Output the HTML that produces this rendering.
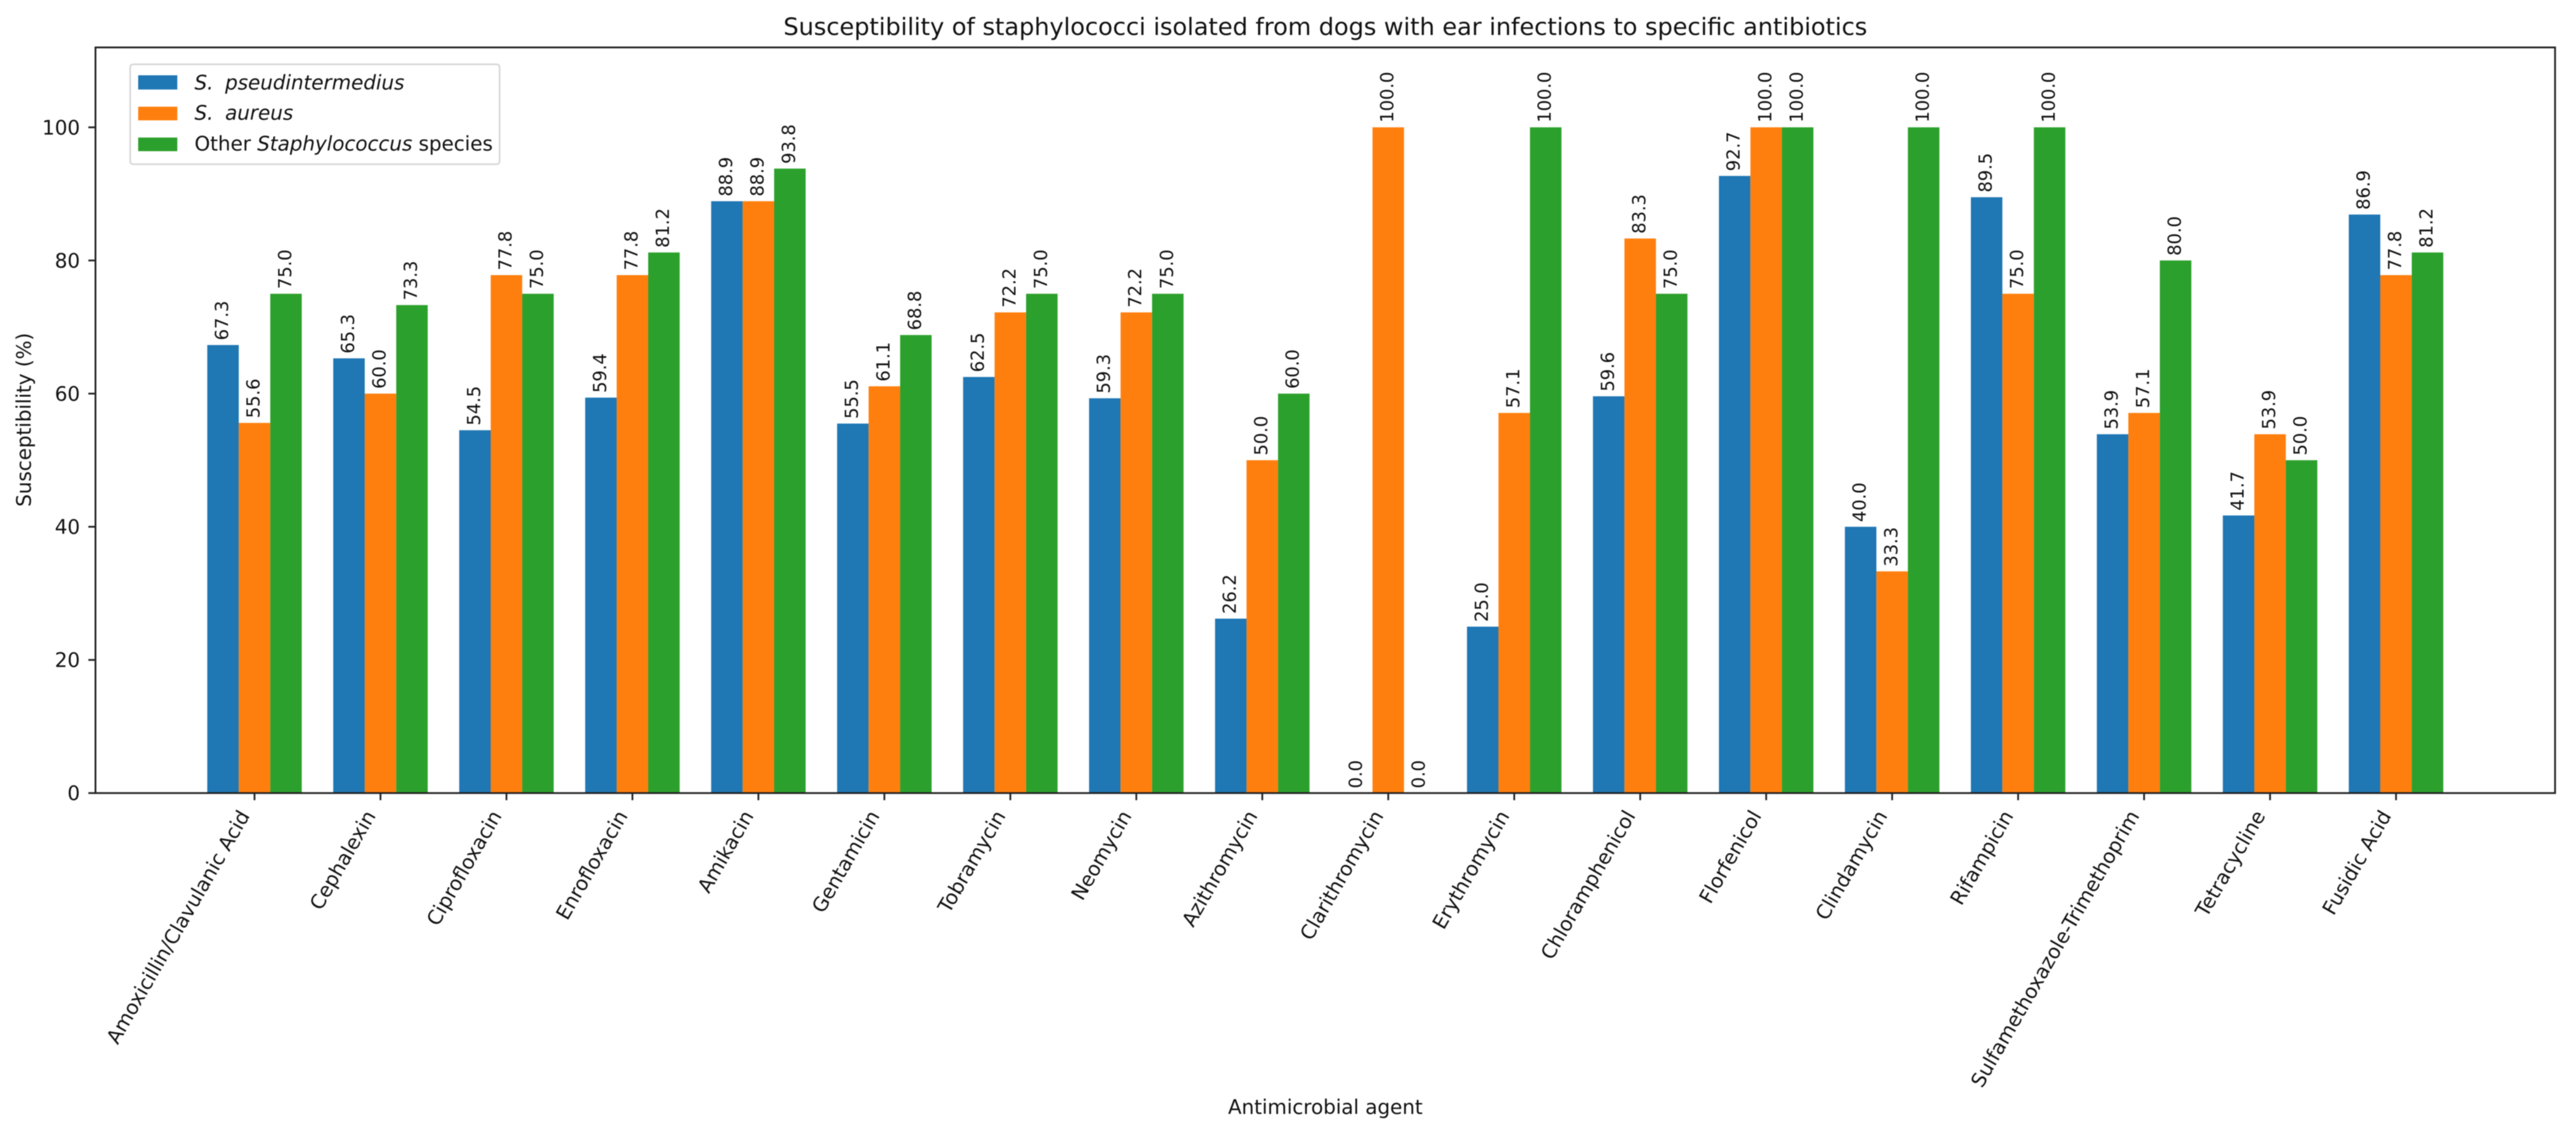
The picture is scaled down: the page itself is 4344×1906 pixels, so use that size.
<!DOCTYPE html>
<html lang="en">
<head>
<meta charset="utf-8">
<title>Susceptibility of staphylococci</title>
<style>
html,body{margin:0;padding:0;background:#fff;}
svg{display:block;filter:blur(0.7px);}
text{font-family:"DejaVu Sans","Liberation Sans",sans-serif;fill:#111;}
</style>
</head>
<body>
<svg id="chart" xmlns="http://www.w3.org/2000/svg" width="4344" height="1906" viewBox="0 0 4344 1906">
  <rect x="0" y="0" width="4344" height="1906" fill="#ffffff"/>
  <text x="2235" y="59" font-size="40.4" text-anchor="middle">Susceptibility of staphylococci isolated from dogs with ear infections to specific antibiotics</text>
  <text transform="translate(52 708) rotate(-90)" font-size="33.5" text-anchor="middle">Susceptibility (%)</text>
  <text x="2235" y="1879" font-size="33.5" text-anchor="middle">Antimicrobial agent</text>
  <g id="bars"></g>
  <g id="labels"></g>
  <g id="yticks"></g>
  <g id="xticks"></g>
  <rect x="161" y="80" width="4147.7" height="1257.7" fill="none" stroke="#222" stroke-width="3"/>
  <g>
    <rect x="219.5" y="108.5" width="623" height="168.5" rx="5" fill="#ffffff" fill-opacity="0.8" stroke="#d6d6d6" stroke-width="2.7"/>
    <rect x="233" y="127" width="66" height="24" fill="#1f77b4"/>
    <text x="328" y="151" font-size="33.5" font-style="italic">S. <tspan dx="9">pseudintermedius</tspan></text>
    <rect x="233" y="180" width="66" height="23" fill="#ff7f0e"/>
    <text x="328" y="202" font-size="33.5" font-style="italic">S. <tspan dx="9">aureus</tspan></text>
    <rect x="233" y="232" width="66" height="23" fill="#2ca02c"/>
    <text x="328" y="254" font-size="33.5">Other <tspan font-style="italic">Staphylococcus</tspan> species</text>
  </g>
</svg>
<script>
const categories = ["Amoxicillin/Clavulanic Acid","Cephalexin","Ciprofloxacin","Enrofloxacin","Amikacin","Gentamicin","Tobramycin","Neomycin","Azithromycin","Clarithromycin","Erythromycin","Chloramphenicol","Florfenicol","Clindamycin","Rifampicin","Sulfamethoxazole-Trimethoprim","Tetracycline","Fusidic Acid"];
const pseudintermedius = [67.3,65.3,54.5,59.4,88.9,55.5,62.5,59.3,26.2,0,25,59.6,92.7,40,89.5,53.9,41.7,86.9];
const aureus = [55.6,60,77.8,77.8,88.9,61.1,72.2,72.2,50,100,57.1,83.3,100,33.3,75,57.1,53.9,77.8];
const otherStaph = [75,73.3,75,81.2,93.8,68.8,75,75,60,0,100,75,100,100,100,80,50,81.2];
const yTickLabels = [0,20,40,60,80,100];
const seriesNames = ["pseudintermedius","aureus","other"];
const seriesColors = ["#1f77b4","#ff7f0e","#2ca02c"];

const NS = "http://www.w3.org/2000/svg";
const axisLeft = 161, axisRight = 4308.7, axisTop = 80, axisBottom = 1337.7;
const yMax = 112, barWidthUnits = 0.25;
const xMin = -0.375 - 0.05 * (categories.length - 1 + 0.75);
const xMax = categories.length - 1 + 0.375 + 0.05 * (categories.length - 1 + 0.75);
function xScale(v){ return axisLeft + (v - xMin) / (xMax - xMin) * (axisRight - axisLeft); }
function yScale(v){ return axisBottom - v / yMax * (axisBottom - axisTop); }

const barsG = document.getElementById("bars");
const labelsG = document.getElementById("labels");
const yG = document.getElementById("yticks");
const xG = document.getElementById("xticks");

[pseudintermedius, aureus, otherStaph].forEach(function(series, s){
  series.forEach(function(value, i){
    const left = xScale(i + (s - 1.5) * barWidthUnits);
    const right = xScale(i + (s - 0.5) * barWidthUnits);
    const top = yScale(value);
    const bar = document.createElementNS(NS, "rect");
    
    
    bar.setAttribute("x", left);
    bar.setAttribute("y", top);
    bar.setAttribute("width", right - left);
    bar.setAttribute("height", axisBottom - top);
    bar.setAttribute("fill", seriesColors[s]);
    barsG.appendChild(bar);

    const label = document.createElementNS(NS, "text");
    
    
    label.setAttribute("font-size", "30");
    label.setAttribute("transform", "translate(" + ((left + right) / 2 + 8.5) + " " + (top - 8) + ") rotate(-90)");
    label.textContent = value.toFixed(1);
    labelsG.appendChild(label);
  });
});

yTickLabels.forEach(function(v){
  const y = yScale(v);
  const tick = document.createElementNS(NS, "line");
  
  
  tick.setAttribute("x1", axisLeft - 12);
  tick.setAttribute("x2", axisLeft);
  tick.setAttribute("y1", y);
  tick.setAttribute("y2", y);
  tick.setAttribute("stroke", "#222");
  tick.setAttribute("stroke-width", "3");
  yG.appendChild(tick);
  const t = document.createElementNS(NS, "text");
  
  
  t.setAttribute("x", axisLeft - 26);
  t.setAttribute("y", y + 12);
  t.setAttribute("font-size", "33.5");
  t.setAttribute("text-anchor", "end");
  t.textContent = v;
  yG.appendChild(t);
});

categories.forEach(function(name, i){
  const x = xScale(i);
  const tick = document.createElementNS(NS, "line");
  
  
  tick.setAttribute("x1", x);
  tick.setAttribute("x2", x);
  tick.setAttribute("y1", axisBottom);
  tick.setAttribute("y2", axisBottom + 12);
  tick.setAttribute("stroke", "#222");
  tick.setAttribute("stroke-width", "3");
  xG.appendChild(tick);
  const t = document.createElementNS(NS, "text");
  
  
  t.setAttribute("font-size", "33.5");
  t.setAttribute("text-anchor", "end");
  t.setAttribute("transform", "translate(" + (x - 7) + " " + (axisBottom + 38) + ") rotate(-60)");
  t.textContent = name;
  xG.appendChild(t);
});
</script>
</body>
</html>
